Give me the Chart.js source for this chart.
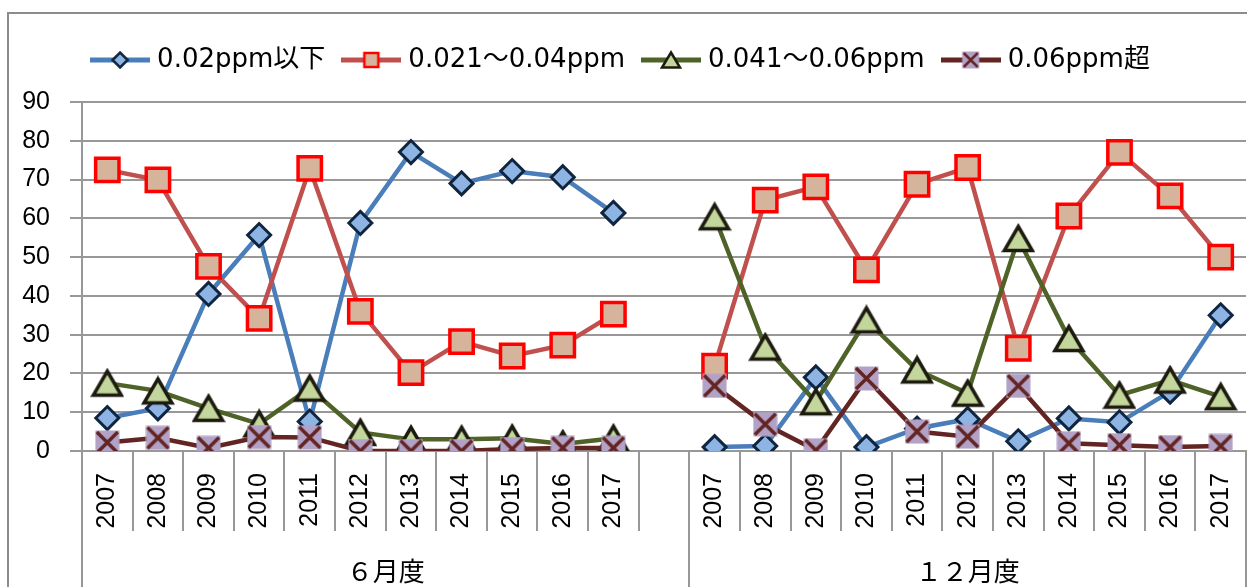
<!DOCTYPE html>
<html>
<head>
<meta charset="utf-8">
<script src="https://cdn.jsdelivr.net/npm/chart.js@4.4.1/dist/chart.umd.min.js"></script>
<style>
html,body{margin:0;padding:0;background:#fff;}
#wrap{width:1247px;height:587px;position:relative;}
</style>
</head>
<body>
<div id="wrap"><canvas id="c" width="1247" height="587"></canvas></div>
<script>
// ---- data ----
const years = ['2007','2008','2009','2010','2011','2012','2013','2014','2015','2016','2017'];
const groupLabels = ['６月度', '１２月度'];
const seriesNames = ['0.02ppm以下', '0.021～0.04ppm', '0.041～0.06ppm', '0.06ppm超'];
const yTickMin = 0;
const yTickMax = 90;
const yTickStep = 10;

const lowJun  = [8.5, 11, 40.5, 55.7, 7.6, 58.8, 77.1, 69, 72.2, 70.6, 61.4];
const lowDec  = [1, 1.3, 19, 1, 5.8, 8.2, 2.5, 8.4, 7.4, 15.3, 35];
const midJun  = [72.5, 69.9, 47.6, 34.2, 72.9, 36, 20.2, 28.2, 24.5, 27.3, 35.3];
const midDec  = [21.9, 64.7, 68.1, 46.7, 68.8, 73.1, 26.5, 60.6, 77, 65.8, 50];
const highJun = [17.5, 15.5, 11, 7, 16.2, 4.8, 3, 3, 3.3, 1.8, 3.3];
const highDec = [60.4, 26.8, 12.7, 33.8, 20.9, 14.9, 54.8, 29, 14.4, 18.3, 14];
const overJun = [2.2, 3.4, 0.8, 3.6, 3.5, 0, 0, 0, 0.5, 0.8, 0.8];
const overDec = [16.8, 6.9, 0.2, 18.7, 5, 3.7, 16.8, 2, 1.5, 1, 1.3];

// ---- helpers ----
const labels = [...years, '', ...years];
const join = (a, b) => [...a, null, ...b];

const GRID = '#989898';
const LATIN = "'Liberation Sans', Arial, sans-serif";
const LEGEND_FONT = "'DejaVu Sans', 'Noto Sans CJK JP', sans-serif";
const CJK = "'Noto Sans CJK JP', sans-serif";

function mkCanvas(w, h) { const c = document.createElement('canvas'); c.width = w; c.height = h; return c; }

function drawTri(g, cx, cy, w, h, lw) {
  g.beginPath();
  g.moveTo(cx, cy - h / 2);
  g.lineTo(cx + w / 2, cy + h / 2);
  g.lineTo(cx - w / 2, cy + h / 2);
  g.closePath();
  g.fillStyle = '#C3D69B'; g.fill();
  g.lineWidth = lw; g.strokeStyle = '#1D1B10'; g.lineJoin = 'miter'; g.stroke();
}
function drawX(g, cx, cy, s, lw) {
  g.fillStyle = '#B3A2C7';
  g.fillRect(cx - s / 2, cy - s / 2, s, s);
  g.strokeStyle = '#632523'; g.lineWidth = lw;
  const d = s / 2 - 1.5;
  g.beginPath();
  g.moveTo(cx - d, cy - d); g.lineTo(cx + d, cy + d);
  g.moveTo(cx + d, cy - d); g.lineTo(cx - d, cy + d);
  g.stroke();
}
function drawDiamond(g, cx, cy, r, lw) {
  g.beginPath();
  g.moveTo(cx - r, cy); g.lineTo(cx, cy - r); g.lineTo(cx + r, cy); g.lineTo(cx, cy + r); g.closePath();
  g.fillStyle = '#8EB4E3'; g.fill();
  g.lineWidth = lw; g.strokeStyle = '#10253F'; g.stroke();
}
function drawSquare(g, cx, cy, s, lw) {
  g.fillStyle = '#D6B49C';
  g.fillRect(cx - s / 2, cy - s / 2, s, s);
  g.lineWidth = lw; g.strokeStyle = '#FF0000';
  g.strokeRect(cx - s / 2, cy - s / 2, s, s);
}

// chart marker images
const triImg = mkCanvas(34, 31);
drawTri(triImg.getContext('2d'), 17, 15.5, 28, 24, 3.5);
const xImg = mkCanvas(25, 25);
drawX(xImg.getContext('2d'), 12.5, 12.5, 24, 3.5);

// legend images (line + marker)
const lineColors = ['#4A7EBB', '#C0504D', '#4F6228', '#632523'];
function legendImg(i) {
  const c = mkCanvas(60, 26);
  const g = c.getContext('2d');
  g.strokeStyle = lineColors[i]; g.lineWidth = 5;
  g.beginPath(); g.moveTo(0, 13); g.lineTo(60, 13); g.stroke();
  if (i === 0) drawDiamond(g, 30, 13, 7.5, 2.5);
  if (i === 1) drawSquare(g, 30, 13, 14, 2.5);
  if (i === 2) drawTri(g, 30, 13, 18, 15, 2.5);
  if (i === 3) drawX(g, 30, 13, 17, 2.5);
  return c;
}
const legendImgs = [0, 1, 2, 3].map(legendImg);

// ---- plugins ----
const framePlugin = {
  id: 'frame',
  beforeDraw(chart) {
    const ctx = chart.ctx;
    ctx.save();
    ctx.strokeStyle = '#8C8C8C'; ctx.lineWidth = 2;
    ctx.beginPath();
    ctx.moveTo(8, chart.height); ctx.lineTo(8, 13); ctx.lineTo(chart.width, 13);
    ctx.stroke();
    ctx.restore();
  }
};
const groupPlugin = {
  id: 'groups',
  afterDraw(chart) {
    const xs = chart.scales.x;
    const ctx = chart.ctx;
    const n = years.length;
    const bounds = [-0.5, n + 0.5, 2 * n + 0.5];
    ctx.save();
    ctx.strokeStyle = GRID; ctx.lineWidth = 2;
    bounds.forEach(b => {
      const px = Math.round(xs.getPixelForValue(b));
      ctx.beginPath(); ctx.moveTo(px, xs.top); ctx.lineTo(px, chart.height); ctx.stroke();
    });
    ctx.font = '26px ' + CJK;
    ctx.fillStyle = '#000'; ctx.textAlign = 'center'; ctx.textBaseline = 'middle';
    groupLabels.forEach((g, i) => {
      const cx = (xs.getPixelForValue(bounds[i]) + xs.getPixelForValue(bounds[i + 1])) / 2;
      ctx.fillText(g, cx, xs.top + 120);
    });
    ctx.restore();
  }
};

// ---- chart ----
const common = { borderWidth: 4.5, tension: 0, spanGaps: false, pointBorderWidth: 3 };
new Chart(document.getElementById('c'), {
  type: 'line',
  data: {
    labels: labels,
    datasets: [
      Object.assign({}, common, { label: seriesNames[0], data: join(lowJun, lowDec), borderColor: lineColors[0],
        pointStyle: 'rectRot', pointRadius: 11.5, pointBackgroundColor: '#8EB4E3', pointBorderColor: '#10253F', order: 4 }),
      Object.assign({}, common, { label: seriesNames[1], data: join(midJun, midDec), borderColor: lineColors[1],
        pointStyle: 'rect', pointRadius: 16.5, pointBackgroundColor: '#D6B49C', pointBorderColor: '#FF0000', pointBorderWidth: 3.5, order: 3 }),
      Object.assign({}, common, { label: seriesNames[2], data: join(highJun, highDec), borderColor: lineColors[2],
        pointStyle: triImg, pointRadius: 14, order: 2 }),
      Object.assign({}, common, { label: seriesNames[3], data: join(overJun, overDec), borderColor: lineColors[3],
        pointStyle: xImg, pointRadius: 12, order: 1 })
    ]
  },
  options: {
    responsive: false,
    animation: false,
    events: [],
    layout: { autoPadding: false, padding: { top: 25, right: 1, left: 0, bottom: 0 } },
    plugins: {
      tooltip: { enabled: false },
      legend: {
        position: 'top',
        labels: {
          usePointStyle: true,
          pointStyleWidth: 48,
          padding: 22,
          color: '#000',
          font: { family: LEGEND_FONT, size: 26 },
          generateLabels: (chart) => chart.data.datasets.map((ds, i) => ({
            text: ds.label, pointStyle: legendImgs[i], datasetIndex: i,
            fontColor: '#000', lineWidth: 0, hidden: false, strokeStyle: 'transparent', fillStyle: 'transparent'
          }))
        }
      }
    },
    scales: {
      x: {
        type: 'category',
        offset: true,
        grid: { offset: true, drawOnChartArea: false, drawTicks: true, tickLength: 80, color: GRID, lineWidth: 2 },
        border: { color: GRID, width: 2 },
        ticks: { autoSkip: false, minRotation: 90, maxRotation: 90, padding: -58, color: '#000',
          font: { family: LATIN, size: 25 } },
        afterFit: (s) => { s.height = 136; s.paddingLeft = 0; s.paddingRight = 0; }
      },
      xTop: {
        type: 'category',
        position: 'top',
        display: true,
        grid: { display: false },
        border: { display: false },
        ticks: { display: false },
        afterFit: (s) => { s.height = 19; s.paddingLeft = 0; s.paddingRight = 0; }
      },
      y: {
        min: yTickMin, max: yTickMax,
        ticks: { stepSize: yTickStep, padding: 20, color: '#000', font: { family: LATIN, size: 25 } },
        grid: { color: GRID, lineWidth: 2, tickLength: 12, drawTicks: true },
        border: { color: GRID, width: 2 },
        afterFit: (s) => { s.width = 82; }
      }
    }
  },
  plugins: [framePlugin, groupPlugin]
});
</script>
</body>
</html>
